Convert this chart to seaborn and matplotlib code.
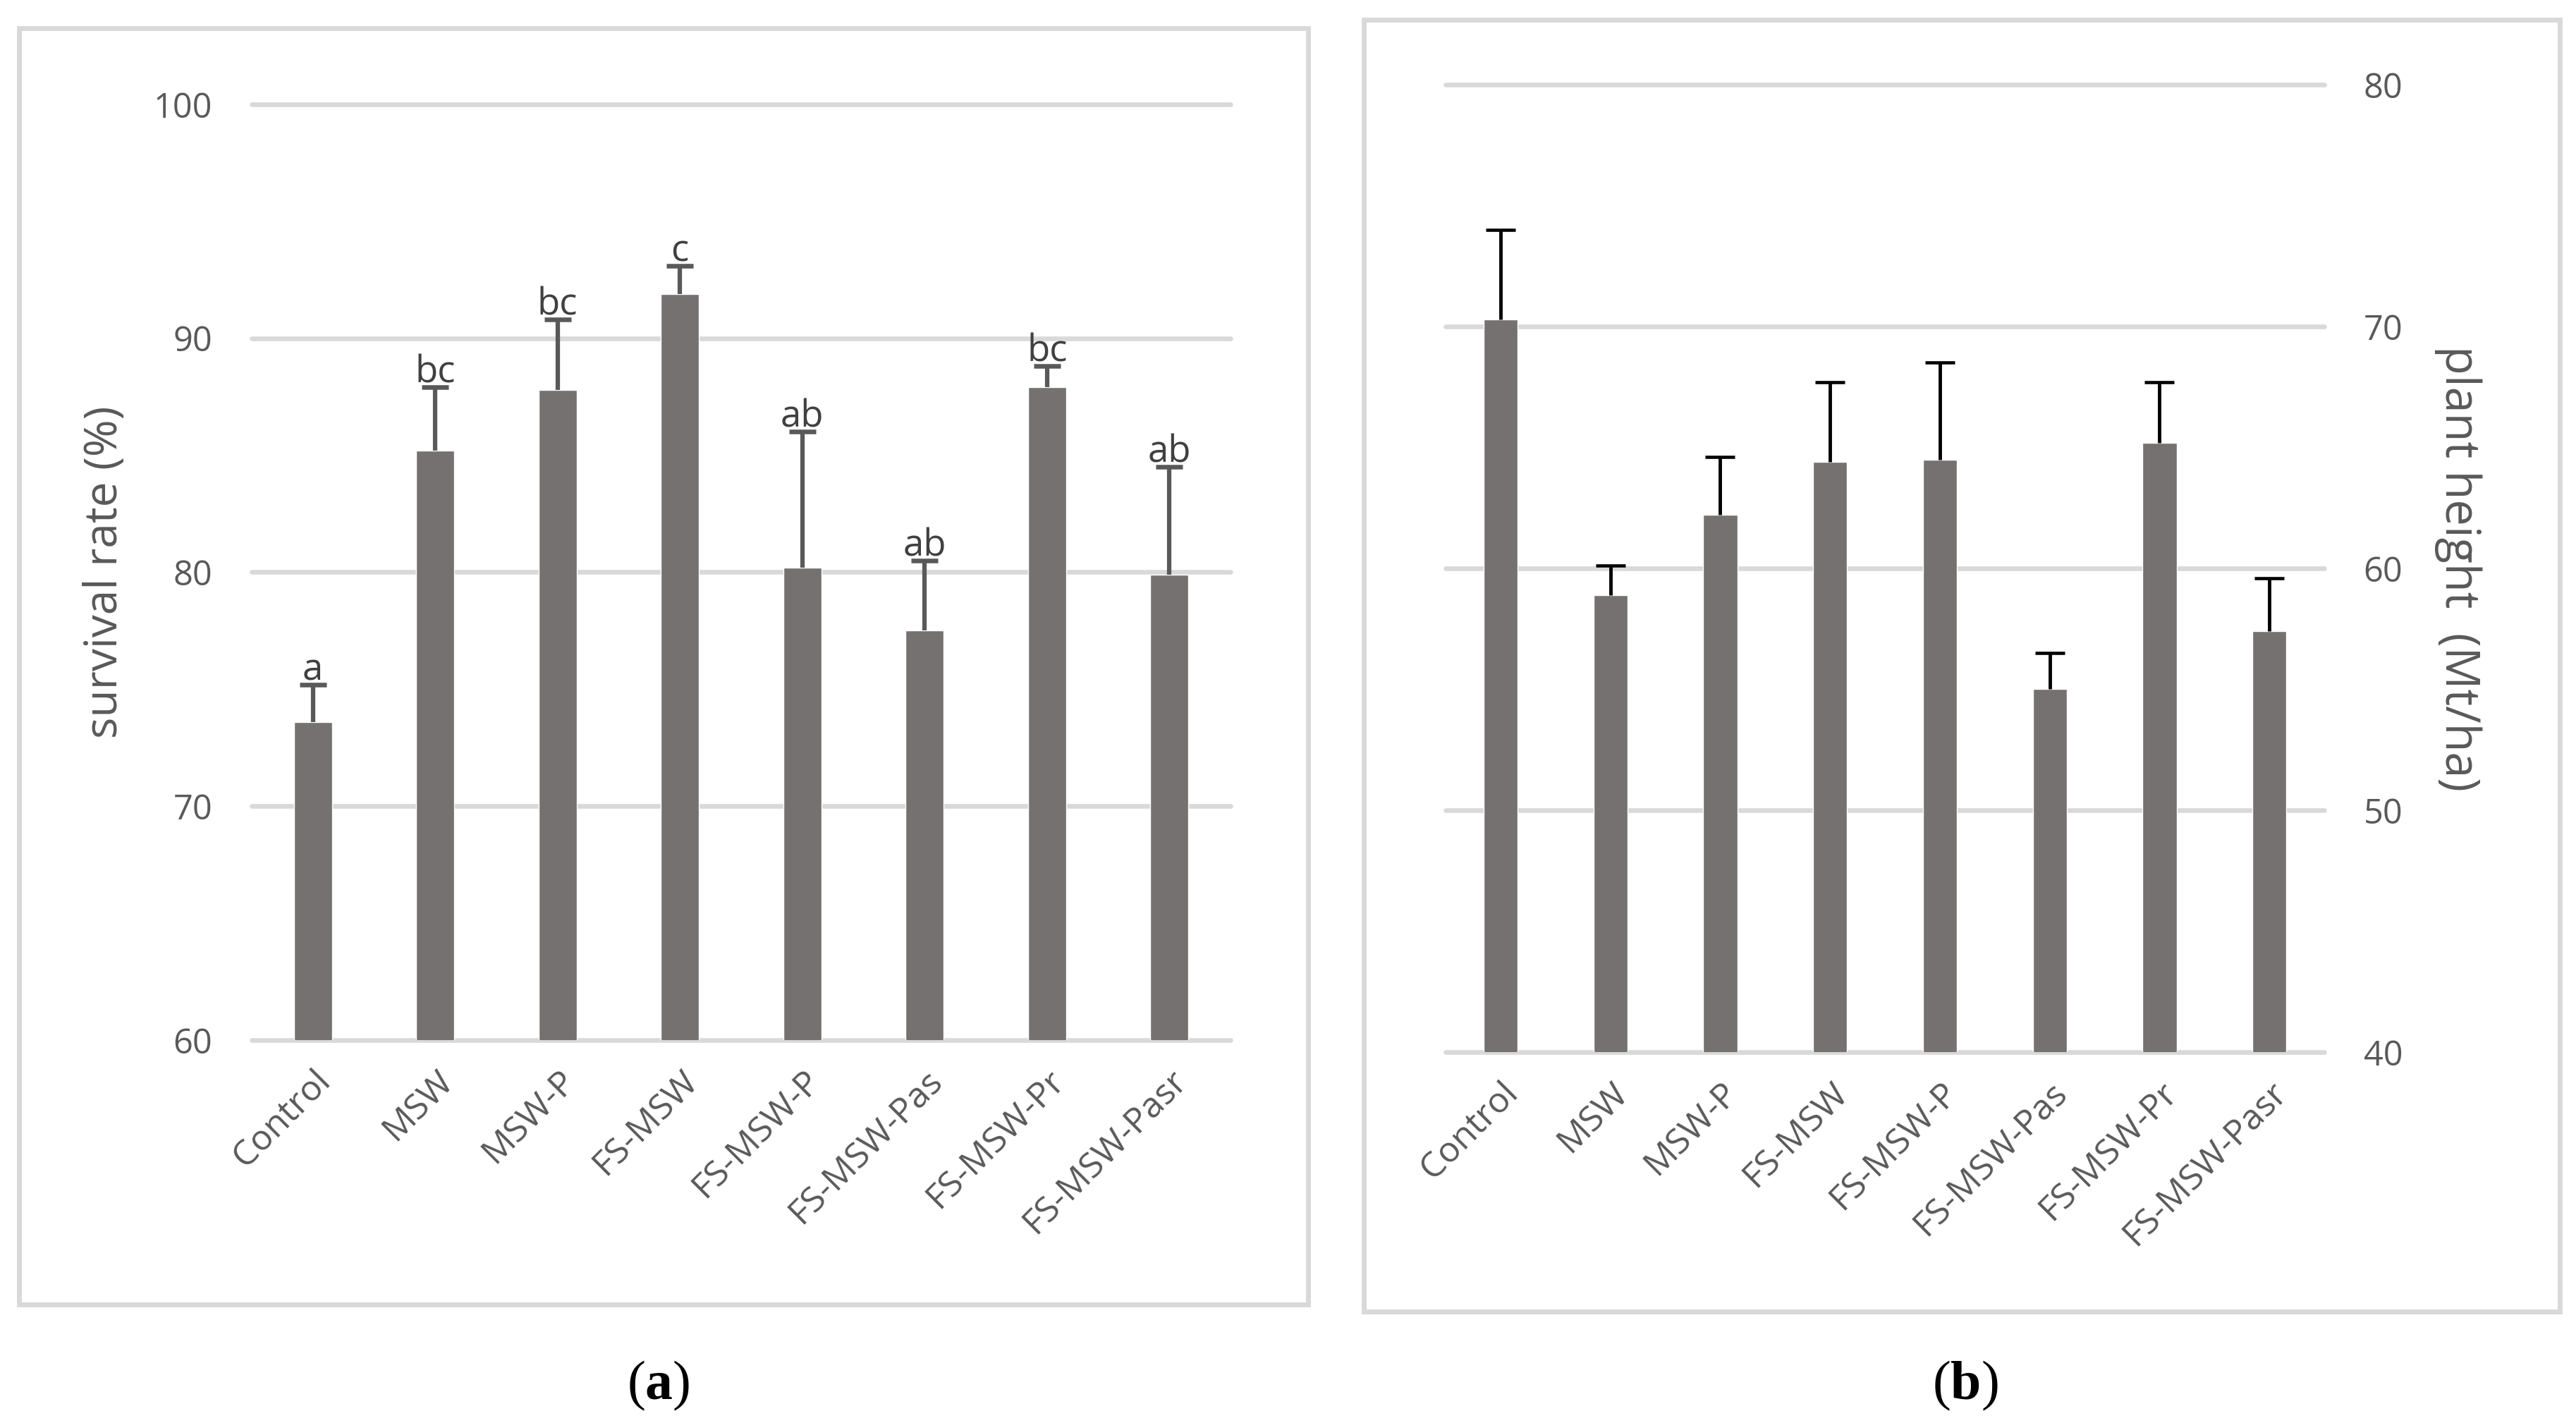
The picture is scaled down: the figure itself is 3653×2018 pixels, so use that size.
import seaborn as sns
import matplotlib.pyplot as plt
from matplotlib.patches import Rectangle

# data
categories = ["Control", "MSW", "MSW-P", "FS-MSW", "FS-MSW-P",
              "FS-MSW-Pas", "FS-MSW-Pr", "FS-MSW-Pasr"]
survival_mean = [73.6, 85.2, 87.8, 91.9, 80.2, 77.5, 87.9, 79.9]
survival_err = [1.6, 2.7, 3.0, 1.2, 5.8, 3.0, 0.9, 4.6]
survival_letters = ["a", "bc", "bc", "c", "ab", "ab", "bc", "ab"]
height_mean = [70.3, 58.9, 62.2, 64.4, 64.5, 55.0, 65.2, 57.4]
height_err = [3.7, 1.2, 2.4, 3.3, 4.0, 1.5, 2.5, 2.2]
survival_ticks = [60, 70, 80, 90, 100]
height_ticks = [40, 50, 60, 70, 80]

BAR = "#757171"
GRID = "#D9D9D9"
TXT = "#595959"

sns.set_theme(style="white")
plt.rcParams["font.family"] = ["Open Sans", "DejaVu Sans"]
plt.rcParams["mathtext.fontset"] = "custom"
plt.rcParams["mathtext.rm"] = "Liberation Serif"
plt.rcParams["mathtext.bf"] = "Liberation Serif:bold"

fig = plt.figure(figsize=(36.53, 20.18), dpi=100)
ax1 = fig.add_axes([0.0977, 0.2691, 0.380, 0.6576])
ax2 = fig.add_axes([0.5612, 0.2607, 0.3411, 0.6799])


def draw_panel(ax, means, errs, ticks, ecolor, elw, capsize, capthick):
    sns.barplot(x=categories, y=means, color=BAR, saturation=1, width=0.31,
                errorbar=None, ax=ax, zorder=2)
    xs = list(range(len(categories)))
    eb = ax.errorbar(xs, means, yerr=[[0] * len(errs), errs], fmt="none",
                     ecolor=ecolor, elinewidth=elw, capsize=capsize,
                     capthick=capthick, zorder=3)
    # only the upper cap is shown (error bars go up only)
    for cap in eb[1]:
        if list(cap.get_ydata()) == list(means):
            cap.set_visible(False)
    ax.set_ylim(ticks[0], ticks[-1])
    ax.set_xlim(-0.5, len(categories) - 0.5)
    ax.set_yticks(ticks)
    ax.grid(False)
    for t in ticks:
        ax.axhline(t, color=GRID, lw=4.8, zorder=0.5, clip_on=False)
    for s in ax.spines.values():
        s.set_visible(False)
    ax.set_xticks(xs)
    ax.set_xticklabels(categories, rotation=45, ha="right", va="top",
                       rotation_mode="anchor", fontsize=36, color=TXT)
    ax.tick_params(axis="x", length=0, pad=24)
    ax.tick_params(axis="y", length=0, pad=40, labelsize=35, labelcolor=TXT)
    ax.set_facecolor("none")


draw_panel(ax1, survival_mean, survival_err, survival_ticks, "#595959", 4.5, 13.5, 4.7)
draw_panel(ax2, height_mean, height_err, height_ticks, "black", 3.5, 15, 3.3)

# significance letters above the error bars
for i, (m, e, lab) in enumerate(zip(survival_mean, survival_err, survival_letters)):
    ax1.text(i, m + e + 0.2, lab, ha="center", va="baseline", fontsize=38,
             color="#404040", zorder=4)

ax1.set_ylabel("survival rate (%)", fontsize=46, color=TXT, va="center")
ax1.yaxis.set_label_coords(-0.150, 0.5)

ax2.yaxis.tick_right()
ax2.yaxis.set_label_position("right")
ax2.set_ylabel("plant height  (Mt/ha)", fontsize=48, color=TXT,
               rotation=270, va="center", ha="center")
ax2.yaxis.set_label_coords(1.152, 0.5)

# panel frames
fig.add_artist(Rectangle((0.0074, 0.0833), 0.5004, 0.8969, transform=fig.transFigure,
                         fill=False, ec=GRID, lw=5))
fig.add_artist(Rectangle((0.5294, 0.0783), 0.4643, 0.9078, transform=fig.transFigure,
                         fill=False, ec=GRID, lw=5))

fig.text(934 / 3653, 1 - 1964 / 2018, r"$\mathrm{(}\mathbf{a}\mathrm{)}$",
         ha="center", va="center", fontsize=56, color="black")
fig.text(2787 / 3653, 1 - 1964 / 2018, r"$\mathrm{(}\mathbf{b}\mathrm{)}$",
         ha="center", va="center", fontsize=56, color="black")

fig.savefig("out.png", dpi=100, facecolor="white")
